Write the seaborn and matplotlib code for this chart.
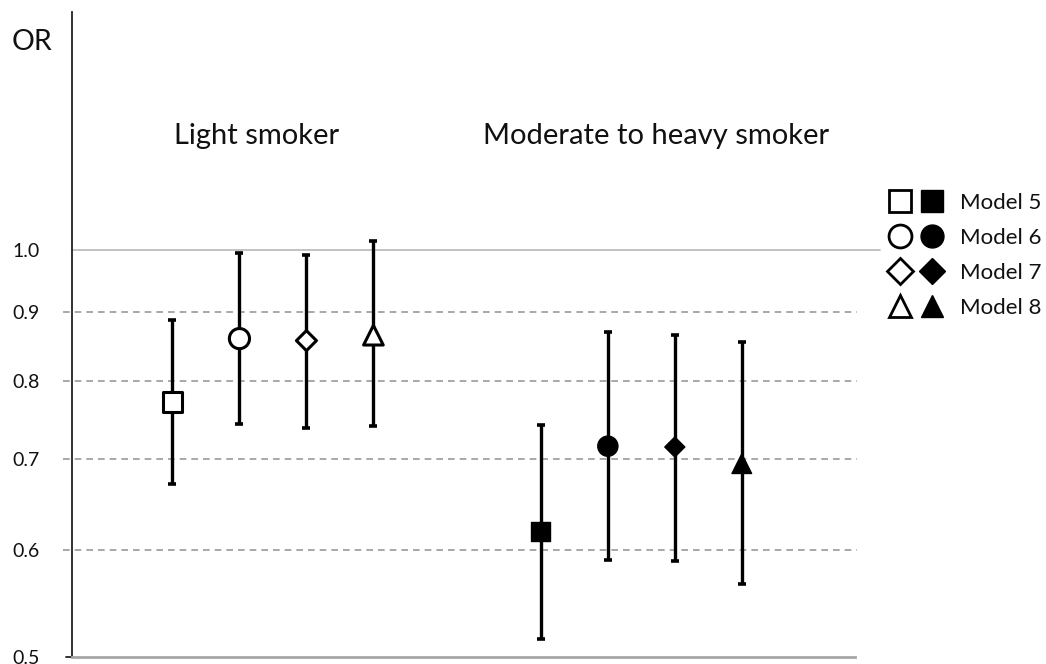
import numpy as np
import pandas as pd
import matplotlib
matplotlib.use("Agg")
import matplotlib.pyplot as plt
from matplotlib.ticker import FixedLocator, FixedFormatter, NullLocator
from matplotlib.lines import Line2D
from matplotlib.legend_handler import HandlerTuple
import seaborn as sns

# ---- data ----
groups = ["Light smoker", "Moderate to heavy smoker"]
models = ["Model 5", "Model 6", "Model 7", "Model 8"]
light_or = [0.772, 0.860, 0.857, 0.865]
light_lo = [0.671, 0.743, 0.739, 0.741]
light_hi = [0.888, 0.995, 0.992, 1.016]
heavy_or = [0.619, 0.716, 0.715, 0.695]
heavy_lo = [0.516, 0.590, 0.589, 0.566]
heavy_hi = [0.742, 0.869, 0.866, 0.855]
light_x = [1.5, 2.5, 3.5, 4.5]
heavy_x = [7.0, 8.0, 9.0, 10.0]
ytick_vals = [0.5, 0.6, 0.7, 0.8, 0.9, 1.0]
ytick_labels = ["0.5", "0.6", "0.7", "0.8", "0.9", "1.0"]
markers = ["s", "o", "D", "^"]

sns.set_theme(style="white")
plt.rcParams['font.family'] = ['Lato', 'DejaVu Sans']

fig = plt.figure(figsize=(10.46, 6.64), dpi=100)
ax = fig.add_axes([72/1046, 7/664, (855-72)/1046, (652-7)/664])
ax.set_yscale("log")
ax.set_ylim(0.5, 1.5)
ax.set_xlim(0, 11.69)

# grid lines
for v in ytick_vals[1:5]:
    ax.axhline(v, xmin=-0.012, xmax=1.002, color="#9a9a9a", lw=1.2,
               ls=(0, (4, 3)), clip_on=False, zorder=0)
ax.axhline(1.0, xmin=0, xmax=(880-72)/(855-72), color="#bdbdbd", lw=1.3,
           clip_on=False, zorder=0)

df = pd.DataFrame({
    "x": light_x + heavy_x,
    "OR": light_or + heavy_or,
    "lo": light_lo + heavy_lo,
    "hi": light_hi + heavy_hi,
    "model": models + models,
    "group": [groups[0]] * 4 + [groups[1]] * 4,
})

# error bars
ax.errorbar(df["x"], df["OR"], yerr=[df["OR"] - df["lo"], df["hi"] - df["OR"]],
            fmt="none", ecolor="black", elinewidth=2.4, capsize=3, capthick=2.6, zorder=2)

mk = dict(zip(models, markers))
sz = {"Model 5": 190, "Model 6": 210, "Model 7": 104, "Model 8": 200}
sub_l = df[df["group"] == groups[0]]
sub_h = df[df["group"] == groups[1]]
sns.scatterplot(data=sub_l, x="x", y="OR", style="model", markers=mk,
                size="model", sizes=sz,
                color="white", edgecolor="black", linewidth=2.2, ax=ax, legend=False, zorder=3)
sns.scatterplot(data=sub_h, x="x", y="OR", style="model", markers=mk,
                size="model", sizes=sz,
                color="black", edgecolor="black", linewidth=1, ax=ax, legend=False, zorder=3)

# axes styling
ax.yaxis.set_major_locator(FixedLocator(ytick_vals))
ax.yaxis.set_major_formatter(FixedFormatter(ytick_labels))
ax.yaxis.set_minor_locator(NullLocator())
ax.set_xticks([])
ax.tick_params(axis="y", length=0, pad=23, labelsize=14, labelcolor="#111111")
ax.set_xlabel("")
ax.set_ylabel("")
for s in ["top", "right"]:
    ax.spines[s].set_visible(False)
ax.spines["left"].set_color("#222222")
ax.spines["left"].set_linewidth(1.3)
ax.spines["bottom"].set_color("#a6a6a6")
ax.spines["bottom"].set_linewidth(2)
ax.plot([-0.09, 0], [0.5, 0.5], color="#222222", lw=1.3, clip_on=False)

# group titles
ax.text(np.mean(light_x) - 0.24, 1.215, groups[0], ha="center", va="center", fontsize=21, color="#111111")
ax.text(np.mean(heavy_x) + 0.22, 1.215, groups[1], ha="center", va="center", fontsize=21, color="#111111")
fig.text(32/1046, 1 - 42/664, "OR", ha="center", va="center", fontsize=20.5, color="#111111")

# legend
leg_ms = {"s": 16, "o": 16.5, "D": 13.5, "^": 16}
handles = []
for m in markers:
    o = Line2D([], [], marker=m, ls="none", markersize=leg_ms[m],
               markerfacecolor="white", markeredgecolor="black", markeredgewidth=2)
    f = Line2D([], [], marker=m, ls="none", markersize=leg_ms[m],
               markerfacecolor="black", markeredgecolor="black", markeredgewidth=1)
    handles.append((o, f))
fig.legend(handles, models, handler_map={tuple: HandlerTuple(ndivide=None, pad=0.3)},
           loc="upper left", bbox_to_anchor=(887/1046, 1 - 193/664), frameon=False,
           fontsize=16, handlelength=2.575, handletextpad=0.7, labelspacing=0.67,
           borderpad=0, borderaxespad=0, labelcolor="#111111")

fig.savefig("out.png", dpi=100)
